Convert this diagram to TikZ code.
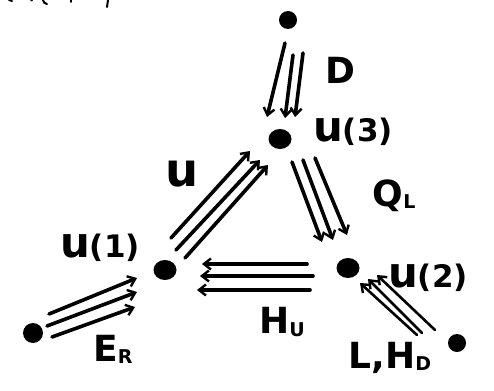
\documentclass[tikz,border=0pt]{standalone}
\usepackage{fontspec}
\setmainfont{DejaVu Sans}
\usetikzlibrary{arrows.meta,shapes.geometric}
% small lowered index letter
\newcommand\dn[1]{\raisebox{-0.06em}{\fontsize{19}{19}\selectfont #1}}
% tall hand-written u
\newcommand\hu[1][1.35]{\scalebox{#1}[#1]{u}}
\begin{document}
\begin{tikzpicture}[x=1pt,y=-1pt,
  dot/.style={ellipse,fill=black,inner sep=0pt,minimum width=23pt,minimum height=20pt},
  qarr/.style={line width=3.6pt,line cap=round,
    -{Straight Barb[length=7pt,width=11pt,line width=2.4pt]}},
  thinarr/.style={qarr,line width=2.6pt},
  lbl/.style={font=\fontsize{36}{36}\selectfont\bfseries,inner sep=0pt},
  ulbl/.style={font=\fontsize{31}{31}\selectfont\bfseries,inner sep=0pt}]
\useasboundingbox (0,0) rectangle (494,390);
\fill[white] (0,0) rectangle (494,390);

% vertices of the quiver
\node[dot,minimum width=18pt,minimum height=18pt] (top) at (288,20) {};
\node[dot] (u3) at (280,139) {};
\node[dot] (u1) at (165,270) {};
\node[dot] (u2) at (348,268) {};
\node[dot,minimum width=20pt,minimum height=20pt] (er) at (33,333) {};
\node[dot,minimum width=18pt,minimum height=18pt] (ld) at (457,343) {};

% D : top -> u(3)
\draw[qarr] ([shift={(-3,23)}]top.center) -- ([shift={(-13,-22)}]u3.center);
\draw[qarr] ([shift={(5,35)}]top.center) -- ([shift={(5,-21)}]u3.center);
\draw[qarr] ([shift={(15,33)}]top.center) -- ([shift={(15,-22)}]u3.center);

% u : u(1) -> u(3)
\draw[qarr] ([shift={(6,-32)}]u1.center) -- ([shift={(-30,12)}]u3.center);
\draw[qarr] ([shift={(11,-20)}]u1.center) -- ([shift={(-20,21)}]u3.center);
\draw[qarr] ([shift={(20,-12)}]u1.center) -- ([shift={(-12,26)}]u3.center);

% Q_L : u(3) -> u(2)
\draw[qarr] ([shift={(12,23)}]u3.center) -- ([shift={(-26,-26)}]u2.center);
\draw[qarr] ([shift={(23,21)}]u3.center) -- ([shift={(-15,-28)}]u2.center);
\draw[qarr] ([shift={(35,19)}]u3.center) -- ([shift={(-1,-33)}]u2.center);

% H_U : u(2) -> u(1)
\draw[qarr] ([shift={(-41,-4)}]u2.center) -- ([shift={(37,-6)}]u1.center);
\draw[qarr] ([shift={(-35,8)}]u2.center) -- ([shift={(35,6)}]u1.center);
\draw[qarr] ([shift={(-38,22)}]u2.center) -- ([shift={(32,20)}]u1.center);

% E_R : source -> u(1)
\draw[qarr] ([shift={(16,-19)}]er.center) -- ([shift={(-28,8)}]u1.center);
\draw[qarr] ([shift={(14,-7)}]er.center) -- ([shift={(-28,22)}]u1.center);
\draw[qarr] ([shift={(19,4)}]er.center) -- ([shift={(-30,37)}]u1.center);

% L, H_D : source -> u(2)
\draw[thinarr] ([shift={(-40,-8)}]ld.center) -- ([shift={(12,15)}]u2.center);
\draw[thinarr] ([shift={(-35,-10)}]ld.center) -- ([shift={(20,11)}]u2.center);
\draw[thinarr] ([shift={(-22,-13)}]ld.center) -- ([shift={(29,7)}]u2.center);

% labels
\node[lbl] (lD) at (340,70) {D};
\node[ulbl] (l3) at (353,132) {\hu(3)};
\node[ulbl] (lu) at (182,174) {\hu[1.5]};
\node[lbl] (lQ) at (394,196) {Q\dn{L}};
\node[ulbl] (l1) at (100,248) {\hu(1)};
\node[ulbl] (l2) at (428,278) {\hu(2)};
\node[lbl] (lH) at (282,322) {H\dn{U}};
\node[lbl] (lE) at (113,349) {E\dn{R}};
\node[lbl] (lL) at (390,358) {L,H\dn{D}};

% pen marks along the upper edge
\begin{scope}[line width=2pt,line cap=round]
  \draw (9,0) -- (12,1);
  \draw (31,0) -- (32,0.5);
  \draw (43,0) .. controls (44,3) .. (47,4);
  \draw (71,0) -- (71,2);
  \draw (108,0) -- (107,7);
\end{scope}
\end{tikzpicture}
\end{document}
